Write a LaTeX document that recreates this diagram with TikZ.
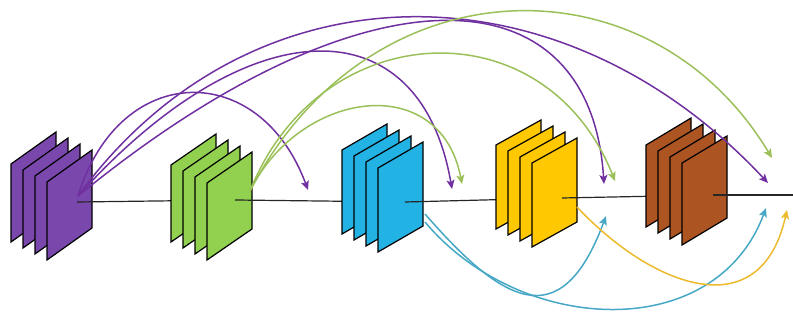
\documentclass[tikz,border=0pt]{standalone}
\usetikzlibrary{arrows.meta}
\definecolor{purpS}{RGB}{122,72,172}
\definecolor{greenS}{RGB}{146,208,80}
\definecolor{blueS}{RGB}{35,178,228}
\definecolor{yellowS}{RGB}{255,200,0}
\definecolor{brownS}{RGB}{172,84,34}
\definecolor{purpA}{RGB}{112,48,160}
\definecolor{greenA}{RGB}{155,192,90}
\definecolor{tealA}{RGB}{70,168,196}
\definecolor{yellA}{RGB}{236,186,44}
\tikzset{
  sheetline/.style={draw=black, line width=1.2pt, line join=miter},
  pics/sheetstack/.style n args={4}{code={
    \foreach \k in {3,2,1,0}{
      \path[sheetline, fill=#1] ({-12*\k},{-6*\k}) -- ++(45,{-#2}) -- ++(0,#3) -- ++(-45,#2) -- cycle;
    }
  }},
  mainline/.style={draw=black!85, line width=1.2pt},
  skip/.style={line width=1.5pt, -{Stealth[length=9pt,width=8pt,inset=2pt]}},
}
\begin{document}
\begin{tikzpicture}[x=1pt,y=-1pt]
\useasboundingbox (0,0) rectangle (793,320);
% block centres and line coordinates
\coordinate (c1) at (77,202);
\coordinate (c2) at (235,200);
\coordinate (c3) at (405,202);
\coordinate (c4) at (562,198);
\coordinate (c5) at (713,195);
\coordinate (cend) at (793,195);
% blocks and main line
\pic (b1) at (47,182) {sheetstack={purpS}{32}{78}{}};
\draw[mainline] (c1) -- (c2);
\pic (b2) at (207,183) {sheetstack={greenS}{31}{77}{}};
\draw[mainline] (c2) -- (c3);
\pic (b3) at (378,168) {sheetstack={blueS}{26}{84}{}};
\draw[mainline] (c3) -- (c4);
\pic (b4) at (532,163) {sheetstack={yellowS}{25}{84}{}};
\draw[mainline] (c4) -- (c5);
\pic (b5) at (682,163) {sheetstack={brownS}{27}{82}{}};
\draw[mainline] (c5) -- (cend);
% arrow start and end points
\coordinate (sp) at (78,196);
\coordinate (sg) at (250,191);
\coordinate (sb1) at (425,214);
\coordinate (sb2) at (425,222);
\coordinate (sy) at (577,207);
\coordinate (ep1) at (308,190);
\coordinate (ep2) at (452,189);
\coordinate (ep3) at (604,184);
\coordinate (ep4) at (768,183);
\coordinate (eg1) at (462,184);
\coordinate (eg2) at (615,181);
\coordinate (eg3) at (772,158);
\coordinate (eb1) at (606,216);
\coordinate (eb2) at (766,208);
\coordinate (ey1) at (787,210);
% purple skips
\draw[skip, purpA] (sp) .. controls (120,60) and (260,60) .. (ep1);
\draw[skip, purpA] (sp) .. controls (250,5) and (420,5) .. (ep2);
\draw[skip, purpA] (sp) .. controls (360,-35) and (590,-35) .. (ep3);
\draw[skip, purpA] (sp) .. controls (250,-40) and (560,-40) .. (ep4);
% green skips
\draw[skip, greenA] (sg) .. controls (300,90) and (440,70) .. (eg1);
\draw[skip, greenA] (sg) .. controls (320,15) and (545,5) .. (eg2);
\draw[skip, greenA] (sg) .. controls (370,-40) and (650,-45) .. (eg3);
% teal and yellow skips
\draw[skip, tealA] (sb1) .. controls (500,300) and (560,340) .. (eb1);
\draw[skip, tealA] (sb2) .. controls (520,335) and (715,345) .. (eb2);
\draw[skip, yellA] (sy) .. controls (650,285) and (760,330) .. (ey1);
\end{tikzpicture}
\end{document}
